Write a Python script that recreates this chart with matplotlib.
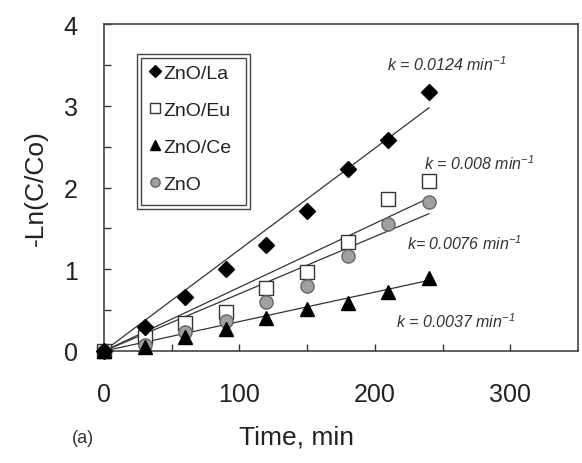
import matplotlib
matplotlib.use("Agg")
import matplotlib.pyplot as plt
from matplotlib.patches import Rectangle
from matplotlib.lines import Line2D
import numpy as np

plt.rcParams['font.family'] = ['Liberation Sans', 'DejaVu Sans']
plt.rcParams['mathtext.fontset'] = 'custom'
plt.rcParams['mathtext.rm'] = 'Liberation Sans'
plt.rcParams['mathtext.it'] = 'Liberation Sans:italic'

time = [0, 30, 60, 90, 120, 150, 180, 210, 240]
zno_la = [0, 0.29, 0.66, 1.00, 1.30, 1.71, 2.23, 2.58, 3.17]
zno_eu = [0, 0.17, 0.34, 0.48, 0.77, 0.97, 1.33, 1.86, 2.08]
zno_ce = [0, 0.05, 0.17, 0.27, 0.40, 0.51, 0.59, 0.72, 0.89]
zno = [0, 0.07, 0.23, 0.37, 0.60, 0.80, 1.16, 1.55, 1.82]

labels = ['ZnO/La', 'ZnO/Eu', 'ZnO/Ce', 'ZnO']
# fitted line slopes as drawn (through origin)
line_slopes = [0.0124, 0.0078, 0.0036, 0.0070]
k_texts = ["k = 0.0124 min$\\mathregular{^{-1}}$",
           "k = 0.008 min$\\mathregular{^{-1}}$",
           "k= 0.0076 min$\\mathregular{^{-1}}$",
           "k = 0.0037 min$\\mathregular{^{-1}}$"]
k_pos = [(209, 3.51), (236, 2.31), (224, 1.33), (216, 0.37)]

fig = plt.figure(figsize=(5.82, 4.64), dpi=100)
ax = fig.add_axes([0.1787, 0.2414, 0.8143, 0.7046])

t = np.array(time, dtype=float)
tl = np.array([0, 240.0])
for s in line_slopes:
    ax.plot(tl, s * tl, color='#333333', lw=0.9, zorder=2)

series = [zno_la, zno_eu, zno_ce, zno]
styles = [
    dict(marker='D', ms=8.5, mfc='black', mec='black'),
    dict(marker='s', ms=9.5, mfc='white', mec='#333333', mew=1.0),
    dict(marker='^', ms=9.5, mfc='black', mec='black'),
    dict(marker='o', ms=9.5, mfc='#a0a0a0', mec='#666666', mew=1.0),
]
zs = [5, 3, 5, 4]
for y, st, z in zip(series, styles, zs):
    ax.plot(t, y, ls='none', zorder=z, clip_on=False, **st)

for txt, (x, y) in zip(k_texts, k_pos):
    ax.text(x, y, txt, fontsize=11.5, color='#333333', ha='left', va='center',
            style='italic')

ax.set_xlim(0, 350)
ax.set_ylim(0, 4)
ax.set_xticks([0, 100, 200, 300])
ax.set_xticks([50, 150, 250], minor=True)
ax.set_yticks([0, 1, 2, 3, 4])
ax.set_yticks([0.5, 1.5, 2.5, 3.5], minor=True)
ax.tick_params(which='both', direction='in', length=5, width=1, color='#333333',
               top=False, right=False)
ax.tick_params(axis='y', which='major', labelsize=18, pad=19, labelcolor='#222222')
ax.tick_params(axis='x', which='major', labelsize=18, pad=22, labelcolor='#222222')
for sp in ax.spines.values():
    sp.set_linewidth(1.2)
    sp.set_color('#444444')

ax.set_xlabel('Time, min', fontsize=19, color='#222222', va='center')
ax.xaxis.set_label_coords((297 - 104) / 474, -(438 - 352) / 327)
ax.set_ylabel('-Ln(C/Co)', fontsize=19, color='#222222', va='center')
ax.yaxis.set_label_coords(-(104 - 36) / 474, (352 - 188) / 327)
fig.text(0.143, 0.055, '(a)', fontsize=13, color='#333333', ha='center', va='center')

# legend with double frame
handles = [Line2D([], [], ls='none', marker=st['marker'], ms=st['ms'] * 0.7,
                  mfc=st['mfc'], mec=st['mec']) for st in styles]
leg = ax.legend(handles, labels, loc='upper left', bbox_to_anchor=(0.078, 0.90),
                frameon=False, fontsize=14, handlelength=0.6, handletextpad=0.15,
                labelspacing=1.0, borderaxespad=0, labelcolor='#222222')
leg.set_zorder(6)
ax.add_patch(Rectangle((0.070, 0.434), 0.238, 0.474, transform=ax.transAxes,
                       fill=False, ec='#444444', lw=1.0, zorder=6, clip_on=False))
ax.add_patch(Rectangle((0.078, 0.446), 0.222, 0.450, transform=ax.transAxes,
                       fill=False, ec='#444444', lw=1.0, zorder=6, clip_on=False))

fig.savefig('out.png', dpi=100)
